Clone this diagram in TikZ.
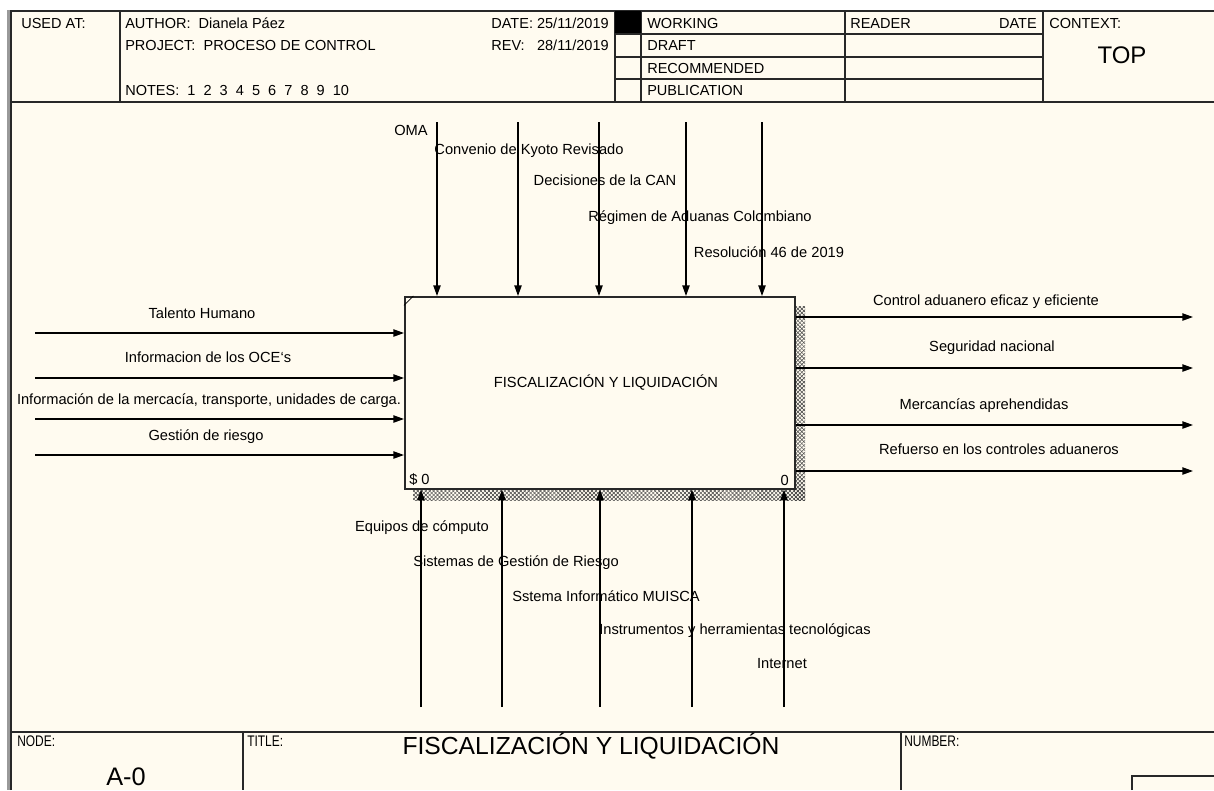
\documentclass[tikz,border=0pt]{standalone}
\usepackage{fontspec}
\usepackage{graphicx}
\setmainfont{Liberation Sans}
\usetikzlibrary{arrows.meta,patterns.meta}
\definecolor{bg}{RGB}{255,251,240}
\definecolor{frm}{RGB}{40,40,40}
\begin{document}
\begin{tikzpicture}[x=0.75pt,y=-0.75pt,
  lbl/.style={font=\fontsize{11}{12}\selectfont, inner sep=0pt},
  hdr/.style={font=\fontsize{10.9}{12}\selectfont, inner sep=0pt},
  small/.style={font=\fontsize{11.5}{12}\selectfont, inner sep=0pt, anchor=west},
  arr/.style={-{Triangle[length=8pt,width=5.5pt]}, line width=1pt},
  frameline/.style={line width=1.3pt, draw=frm},
  sep/.style={line width=1pt, draw=frm},
  hatch/.style={pattern={Lines[angle=45,distance=2.1pt,line width=0.35pt]}, pattern color=black!75},
  hatchb/.style={pattern={Lines[angle=-45,distance=2.1pt,line width=0.35pt]}, pattern color=black!75}]
\useasboundingbox (0,0) rectangle (1214,790);
\fill[white] (0,0) rectangle (1214,790);
\fill[bg] (11,11) rectangle (1214,790);
% outer frame
\fill[black!40] (7,10) rectangle (11,790);
\draw[frameline] (11,790) -- (11,11) -- (1214,11);
% header
\draw[frameline] (11,102) -- (1214,102);
\draw[sep] (120,11) -- (120,102);
\draw[sep] (615,11) -- (615,102);
\draw[sep] (641,11) -- (641,102);
\draw[sep] (845,11) -- (845,102);
\draw[sep] (1043,11) -- (1043,102);
\fill[black] (615,11) rectangle (641,34);
\draw[sep] (615,34) -- (1043,34);
\draw[sep] (615,57) -- (1043,57);
\draw[sep] (615,79) -- (1043,79);
\node[hdr, anchor=west] (usedat) at (21,23) {USED AT:};
\node[hdr, anchor=west] (author) at (125,23) {AUTHOR:\ \ Dianela Páez};
\node[hdr, anchor=west] (project) at (125,45) {PROJECT:\ \ PROCESO DE CONTROL};
\node[hdr, anchor=west] (notes) at (125,90) {NOTES:\ \ 1\ \ 2\ \ 3\ \ 4\ \ 5\ \ 6\ \ 7\ \ 8\ \ 9\ \ 10};
\node[hdr, anchor=east] (date) at (609,23) {DATE:\ 25/11/2019};
\node[hdr, anchor=west] (rev) at (date.west |- 0,45) {REV:};
\node[hdr, anchor=east] (revd) at (609,45) {28/11/2019};
\node[hdr, anchor=west] (working) at (647,23) {WORKING};
\node[hdr, anchor=west] (draft) at (647,45) {DRAFT};
\node[hdr, anchor=west] (recom) at (647,68) {RECOMMENDED};
\node[hdr, anchor=west] (publ) at (647,90) {PUBLICATION};
\node[hdr, anchor=west] (reader) at (850,23) {READER};
\node[hdr, anchor=east] (rdate) at (1037,23) {DATE};
\node[hdr, anchor=west] (context) at (1049,23) {CONTEXT:};
\node[font=\fontsize{18}{20}\selectfont, inner sep=0pt] (top) at (1122,55) {TOP};
% footer
\draw[frameline] (11,732) -- (1214,732);
\draw[sep] (243,732) -- (243,790);
\draw[sep] (901,732) -- (901,790);
\draw[frameline] (1132,790) -- (1132,776) -- (1214,776);
\node[small] (nodel) at (17,741) {\scalebox{0.78}[1]{NODE:}};
\node[small] (titlel) at (247,741) {\scalebox{0.78}[1]{TITLE:}};
\node[small] (numberl) at (904,741) {\scalebox{0.78}[1]{NUMBER:}};
\node[font=\fontsize{18.5}{20}\selectfont, inner sep=0pt] (ftitle) at (591,746) {FISCALIZACIÓN Y LIQUIDACIÓN};
\node[font=\fontsize{19}{20}\selectfont, inner sep=0pt] (a0) at (126,777) {A-0};
% activity box with shadow
\fill[hatch] (794,306) rectangle (805,500);
\fill[hatchb] (794,306) rectangle (805,500);
\fill[hatch] (413,488) rectangle (805,500);
\fill[hatchb] (413,488) rectangle (805,500);
\node[draw=frm, line width=1.2pt, fill=bg, inner sep=0pt, minimum width=292.5pt, minimum height=144pt, anchor=north west] (box) at (404,296) {};
\draw[line width=0.6pt] ([yshift=-7pt]box.north west) -- ([xshift=7pt]box.north west);
\node[lbl] (boxtext) at (606,383) {FISCALIZACIÓN Y LIQUIDACIÓN};
\node[lbl, anchor=west] (dollar) at (409,480) {\$ 0};
\node[lbl, anchor=east] (zero) at (789,480) {0};
% controls
\foreach \x [count=\i] in {437,518,599,686,762} {
  \coordinate (ctl\i) at (\x,122);
  \draw[arr] (ctl\i) -- (ctl\i |- box.north);
}
\node[lbl] (oma) at (411,130) {OMA};
\node[lbl] (kyoto) at (529,151) {Convenio de Kyoto Revisado};
\node[lbl] (can) at (605,180) {Decisiones de la CAN};
\node[lbl] (regimen) at (700,218) {Régimen de Aduanas Colombiano};
\node[lbl] (resol) at (769,252) {Resolución 46 de 2019};
% inputs
\foreach \y [count=\i] in {333,378,419,455} {
  \coordinate (in\i) at (35,\y);
  \draw[arr] (in\i) -- (in\i -| box.west);
}
\node[lbl] (talento) at (202,313) {Talento Humano};
\node[lbl] (oce) at (208,357) {Informacion de los OCE\symbol{96}s};
\node[lbl] (merc) at (209,401) {Información de la mercacía, transporte, unidades de carga.};
\node[lbl] (gestion) at (206,437) {Gestión de riesgo};
% outputs
\foreach \y [count=\i] in {317,368,425,471} {
  \coordinate (out\i) at (1193,\y);
  \draw[arr] (out\i -| box.east) -- (out\i);
}
\node[lbl] (ctrl) at (986,302) {Control aduanero eficaz y eficiente};
\node[lbl] (seg) at (992,348) {Seguridad nacional};
\node[lbl] (aprehen) at (984,406) {Mercancías aprehendidas};
\node[lbl] (refuerzo) at (999,449) {Refuerso en los controles aduaneros};
% mechanisms
\foreach \x [count=\i] in {421,502,600,692,784} {
  \coordinate (mec\i) at (\x,707);
  \draw[arr] (mec\i) -- (mec\i |- box.south);
}
\node[lbl] (equipos) at (422,528) {Equipos de cómputo};
\node[lbl] (sgr) at (516,563) {Sistemas de Gestión de Riesgo};
\node[lbl] (muisca) at (606,596) {Sstema Informático MUISCA};
\node[lbl] (instr) at (735,631) {Instrumentos y herramientas tecnológicas};
\node[lbl] (internet) at (782,664) {Internet};
\end{tikzpicture}
\end{document}
